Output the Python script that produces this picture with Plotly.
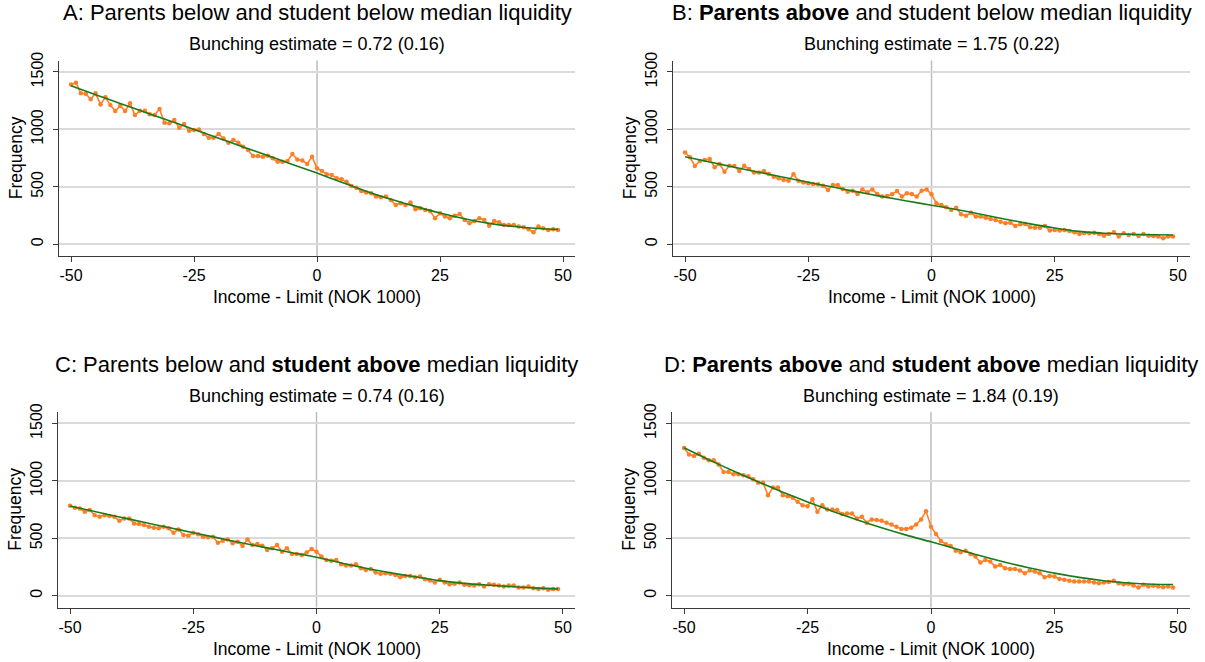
import plotly.graph_objects as go

# ---------------- data ----------------
bins = list(range(-50, 50))

freq_A = [1392, 1406, 1314, 1310, 1262, 1314, 1218, 1279, 1212, 1160,
          1206, 1160, 1227, 1125, 1163, 1163, 1131, 1125, 1177, 1058,
          1053, 1082, 1015, 1047, 989, 995, 1000, 960, 928, 928,
          960, 922, 885, 908, 885, 850, 821, 768, 768, 763,
          771, 748, 719, 719, 725, 786, 738, 730, 700, 763,
          661, 638, 609, 603, 574, 566, 545, 508, 493, 464,
          450, 444, 415, 409, 415, 386, 342, 357, 342, 363,
          305, 313, 299, 290, 226, 270, 241, 226, 249, 264,
          212, 183, 203, 226, 212, 162, 203, 191, 168, 168,
          168, 154, 148, 131, 104, 154, 139, 125, 131, 125]

freq_B = [800, 757, 682, 725, 734, 742, 670, 699, 632, 684,
          682, 638, 684, 655, 624, 626, 638, 612, 589, 574,
          560, 554, 609, 554, 537, 531, 525, 522, 510, 473,
          516, 516, 481, 458, 467, 438, 478, 452, 478, 438,
          415, 420, 435, 464, 415, 444, 438, 415, 467, 478,
          435, 357, 342, 322, 299, 319, 261, 249, 275, 241,
          241, 232, 220, 212, 197, 183, 188, 160, 174, 177,
          148, 145, 145, 160, 119, 125, 119, 125, 116, 104,
          90, 99, 96, 101, 90, 75, 90, 104, 67, 96,
          81, 90, 72, 90, 75, 72, 67, 52, 67, 67]

freq_C = [783, 766, 760, 731, 746, 702, 688, 702, 694, 688,
          653, 673, 673, 630, 624, 616, 601, 592, 587, 601,
          587, 549, 578, 529, 523, 549, 535, 514, 509, 514,
          462, 480, 491, 457, 471, 434, 491, 442, 451, 436,
          399, 413, 442, 384, 413, 364, 364, 355, 376, 407,
          384, 341, 312, 306, 312, 275, 263, 263, 275, 240,
          225, 234, 202, 191, 197, 191, 182, 162, 173, 173,
          162, 168, 145, 133, 116, 139, 116, 101, 104, 116,
          95, 92, 90, 101, 81, 101, 95, 90, 81, 90,
          90, 72, 72, 81, 66, 58, 66, 52, 58, 58]

freq_D = [1286, 1231, 1216, 1236, 1202, 1179, 1179, 1144, 1078, 1078,
          1058, 1058, 1049, 1040, 1014, 983, 983, 875, 942, 942,
          875, 867, 853, 818, 789, 780, 841, 731, 789, 751,
          751, 746, 711, 717, 717, 673, 688, 636, 665, 659,
          653, 636, 621, 601, 581, 581, 592, 621, 665, 737,
          601, 538, 477, 448, 434, 393, 379, 393, 364, 341,
          289, 312, 298, 254, 269, 240, 234, 234, 220, 197,
          220, 211, 197, 162, 173, 168, 147, 139, 130, 124,
          124, 124, 124, 116, 110, 116, 119, 130, 110, 101,
          104, 90, 72, 95, 81, 87, 81, 75, 81, 72]

fit_x = [-50, -45, -40, -35, -30, -25, -20, -15, -10, -5, 0, 5, 10, 15, 20, 25, 30, 35, 40, 45, 49]
fit_A = [1380, 1302, 1226, 1150, 1075, 1000, 924, 848, 772, 695, 620, 540, 462, 392, 330, 272, 222, 182, 155, 138, 130]
fit_B = [762, 716, 671, 627, 583, 540, 498, 456, 415, 377, 340, 303, 262, 218, 178, 142, 112, 96, 87, 83, 81]
fit_C = [782, 733, 686, 640, 594, 549, 504, 460, 417, 375, 335, 285, 240, 200, 165, 132, 108, 92, 78, 67, 60]
fit_D = [1288, 1185, 1086, 992, 902, 817, 737, 662, 592, 528, 470, 410, 348, 292, 242, 197, 160, 131, 111, 100, 98]

titles = ["A: Parents below and student below median liquidity",
          "B: <b>Parents above</b> and student below median liquidity",
          "C: Parents below and <b>student above</b> median liquidity",
          "D: <b>Parents above</b> and <b>student above</b> median liquidity"]
estimates = ["Bunching estimate = 0.72 (0.16)",
             "Bunching estimate = 1.75 (0.22)",
             "Bunching estimate = 0.74 (0.16)",
             "Bunching estimate = 1.84 (0.19)"]

x_ticks = [-50, -25, 0, 25, 50]
y_ticks = [0, 500, 1000, 1500]
x_title = "Income - Limit (NOK 1000)"
y_title = "Frequency"

# ---------------- styling ----------------
W, H = 1205, 662
FONT = "Liberation Sans, Arial, Helvetica, sans-serif"
ORANGE = "#ff7f27"
GREEN = "#1b7a1b"
AXIS = "#3a3a3a"
GRID = "#dadada"

# plot areas in pixels (left, right, top, bottom)
areas = [(59, 575, 60.5, 256), (673, 1190, 60.5, 256),
         (58, 575, 412, 607.5), (672, 1190, 412, 607.5)]

fig = go.Figure()
series = [freq_A, freq_B, freq_C, freq_D]
fits = [fit_A, fit_B, fit_C, fit_D]

layout = dict(width=W, height=H, margin=dict(l=0, r=0, t=0, b=0, autoexpand=False),
              paper_bgcolor="white", plot_bgcolor="white",
              showlegend=False, font=dict(family=FONT, color="black", size=16))
annotations = []
shapes = []

for i in range(4):
    n = "" if i == 0 else str(i + 1)
    xa, ya = "x" + n, "y" + n
    l, r, t, b = areas[i]
    fig.add_trace(go.Scatter(x=bins, y=series[i], mode="lines+markers",
                             line=dict(color=ORANGE, width=1.6),
                             marker=dict(color=ORANGE, size=4.5),
                             xaxis=xa, yaxis=ya))
    fig.add_trace(go.Scatter(x=fit_x, y=fits[i], mode="lines",
                             line=dict(color=GREEN, width=1.6, shape="spline", smoothing=0.8),
                             xaxis=xa, yaxis=ya))
    layout["xaxis" + n] = dict(domain=[l / W, r / W], anchor=ya, automargin=False,
                               range=[-52.44, 52.44], tickvals=x_ticks,
                               ticktext=[str(v) for v in x_ticks],
                               showgrid=False, zeroline=False,
                               showline=True, linecolor=AXIS, linewidth=1.3,
                               ticks="outside", ticklen=5, tickwidth=1.3, tickcolor=AXIS,
                               tickfont=dict(size=16, family=FONT, color="black"))
    layout["yaxis" + n] = dict(domain=[1 - b / H, 1 - t / H], anchor=xa, automargin=False,
                               range=[-102, 1600], tickvals=y_ticks,
                               ticktext=[str(v) for v in y_ticks],
                               tickangle=-90, ticklabelstandoff=3,
                               showgrid=True, gridcolor=GRID, gridwidth=1.5,
                               zeroline=False,
                               showline=True, linecolor=AXIS, linewidth=1.3,
                               ticks="outside", ticklen=5, tickwidth=1.3, tickcolor=AXIS,
                               tickfont=dict(size=16, family=FONT, color="black"))
    shapes.append(dict(type="line", xref=xa, yref=ya + " domain",
                       x0=0, x1=0, y0=0, y1=1,
                       line=dict(color="#bdbdbd", width=1.5), layer="below"))
    cx = (l + r) / 2 / W
    annotations.append(dict(text=titles[i], x=cx, y=1 - (t - 48) / H,
                            xref="paper", yref="paper", showarrow=False,
                            xanchor="center", yanchor="middle",
                            font=dict(size=22, family=FONT, color="black")))
    annotations.append(dict(text=estimates[i], x=cx, y=1 - (t - 16.5) / H,
                            xref="paper", yref="paper", showarrow=False,
                            xanchor="center", yanchor="middle",
                            font=dict(size=18, family=FONT, color="black")))
    annotations.append(dict(text=x_title, x=cx, y=1 - (b + 41) / H,
                            xref="paper", yref="paper", showarrow=False,
                            xanchor="center", yanchor="middle",
                            font=dict(size=17.5, family=FONT, color="black")))
    annotations.append(dict(text=y_title, x=(l - 43) / W, y=1 - ((t + b) / 2) / H,
                            xref="paper", yref="paper", showarrow=False,
                            xanchor="center", yanchor="middle", textangle=-90,
                            font=dict(size=17.5, family=FONT, color="black")))

layout["annotations"] = annotations
layout["shapes"] = shapes
fig.update_layout(**layout)

post = ("document.body.style.margin='0px';"
        "var gd=document.getElementById('{plot_id}');"
        "gd.style.position='absolute';gd.style.top='0px';gd.style.left='0px';")
fig.write_html("out.html", config={"displayModeBar": False}, post_script=post)
